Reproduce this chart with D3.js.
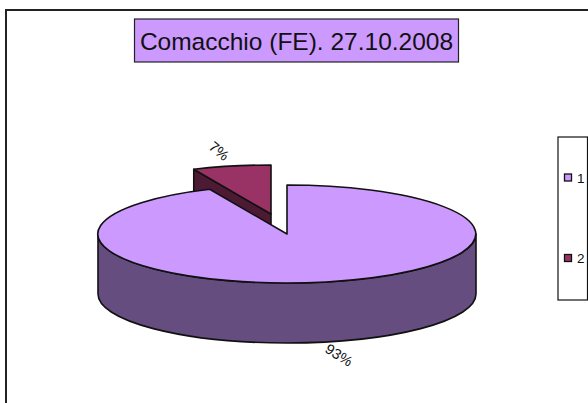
<!DOCTYPE html>
<html><head><meta charset="utf-8">
<script src="https://cdn.jsdelivr.net/npm/d3@7"></script>
<style>html,body{margin:0;padding:0;background:#fff}svg{display:block}text{font-family:"Liberation Sans",Arial,sans-serif;fill:#111}</style>
</head><body><div id="c"></div>
<script>
const categories = ["1", "2"];
const values = [93.3, 6.7];
const dataLabels = ["93%", "7%"];
const topColors = ["#CC99FF", "#993366"];
const sideColors = ["#664D80", "#4D1A33"];
const titleText = "Comacchio (FE). 27.10.2008";

const W = 588, H = 403;
const svg = d3.select("#c").append("svg").attr("width", W).attr("height", H);
const ink = "#111";

// chart frame: open at the right and bottom, where the picture is cropped
svg.append("path").attr("d", d3.line()([[6, H], [6, 10], [W, 10]]))
  .attr("fill", "none").attr("stroke", "#222").attr("stroke-width", 2);

// title
svg.append("rect").attr("x", 134.5).attr("y", 19).attr("width", 324).attr("height", 43)
  .attr("fill", topColors[0]).attr("stroke", "#222").attr("stroke-width", 1.2);
svg.append("text").attr("x", 296.5).attr("y", 49.5).attr("text-anchor", "middle")
  .attr("font-size", 24.5).text(titleText);

// pie
const rx = 189, ry = 49, depth = 60, cx = 287, cy = 234;
const explode = [[0, 0], [-16, -20]];
const slices = d3.pie().sort(null).startAngle(0).endAngle(2 * Math.PI)(values);
const px = a => Math.sin(a) * rx;
const py = a => -Math.cos(a) * ry;
const arc = d3.arc().innerRadius(0).outerRadius(1);
const lineW = 1.6;

function face(i) {
  return svg.append("g")
    .attr("transform", `translate(${cx + explode[i][0]},${cy + explode[i][1]}) scale(${rx},${ry})`)
    .append("path").attr("d", arc(slices[i]))
    .attr("fill", topColors[i]).attr("stroke", ink).attr("stroke-width", lineW)
    .attr("stroke-linejoin", "round").attr("vector-effect", "non-scaling-stroke");
}
function styled(p, i) {
  return p.attr("fill", sideColors[i]).attr("stroke", ink).attr("stroke-width", lineW).attr("stroke-linejoin", "round");
}

// exploded slice: cut wall, then its top face
const a2 = slices[1].startAngle;
const ox = cx + explode[1][0], oy = cy + explode[1][1];
styled(svg.append("path").attr("d", d3.line()([
  [ox + px(a2), oy + py(a2)], [ox, oy], [ox, oy + depth], [ox + px(a2), oy + py(a2) + depth]
]) + "Z"), 1);
face(1);

// main slice: front wall, then top face
styled(svg.append("path").attr("d",
  `M${cx - rx},${cy}A${rx},${ry} 0 0 0 ${cx + rx},${cy}L${cx + rx},${cy + depth}A${rx},${ry} 0 0 1 ${cx - rx},${cy + depth}Z`), 0);
face(0);

// data labels
[[339, 355, 32], [219, 151, 40]].forEach(([x, y, r], i) => {
  svg.append("text").attr("transform", `translate(${x},${y}) rotate(${r})`)
    .attr("text-anchor", "middle").attr("dy", "0.35em").attr("font-size", 14.5).text(dataLabels[i]);
});

// legend
svg.append("rect").attr("x", 558).attr("y", 137).attr("width", 29.5).attr("height", 163)
  .attr("fill", "#fff").attr("stroke", ink).attr("stroke-width", 1.2);
const legendY = d3.scalePoint().domain(categories).range([177.5, 258]);
categories.forEach((c, i) => {
  svg.append("rect").attr("x", 564.5).attr("y", legendY(c) - 3.5).attr("width", 7).attr("height", 7)
    .attr("fill", topColors[i]).attr("stroke", ink).attr("stroke-width", 1.3);
  svg.append("text").attr("x", 577).attr("y", legendY(c) + 5).attr("font-size", 13.5).text(c);
});
</script></body></html>
